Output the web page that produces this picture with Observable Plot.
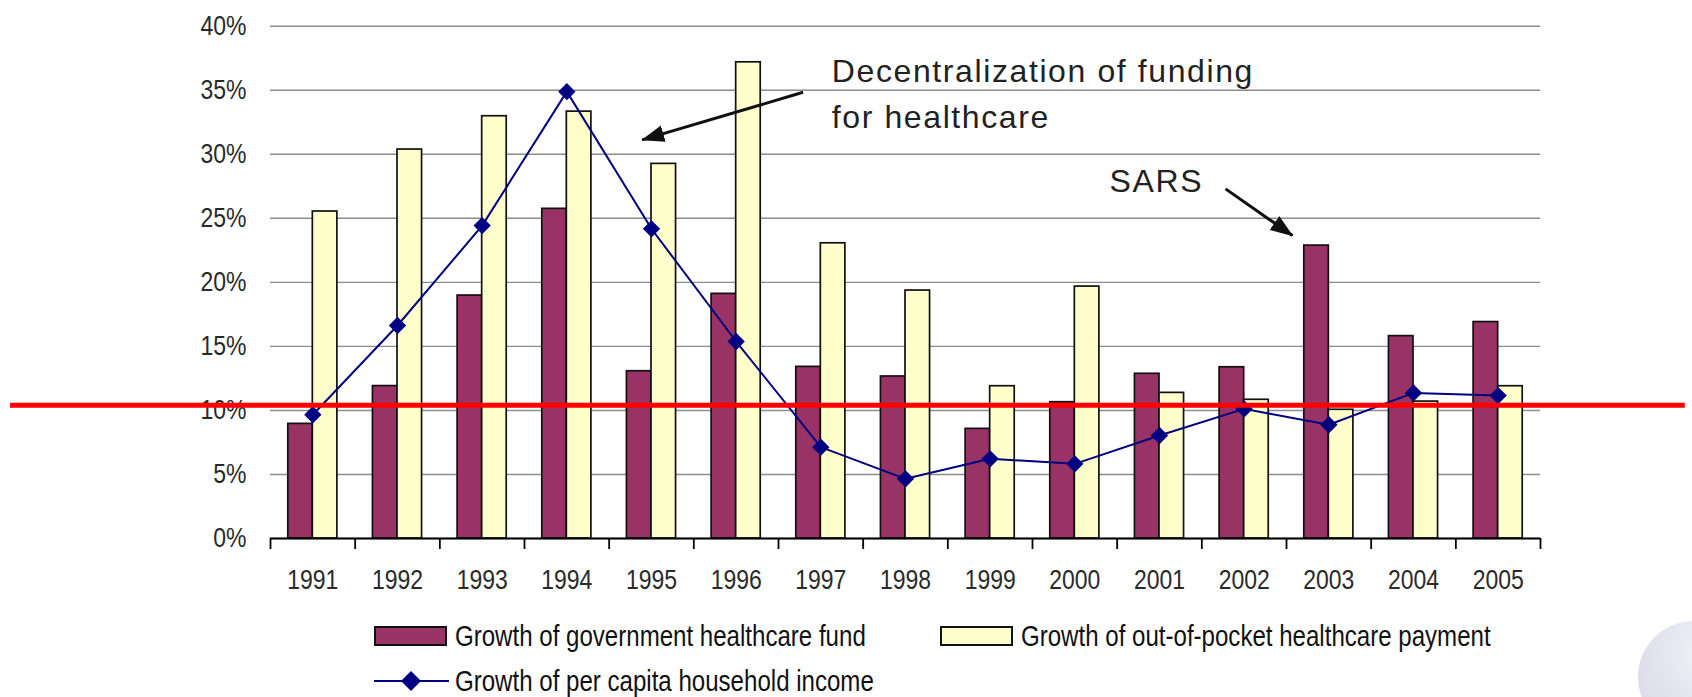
<!DOCTYPE html>
<html>
<head>
<meta charset="utf-8">
<script src="https://cdn.jsdelivr.net/npm/d3@7"></script>
<script src="https://cdn.jsdelivr.net/npm/@observablehq/plot@0.6"></script>
<style>
  html, body { margin: 0; padding: 0; background: #fff; }
  #wrap { position: relative; width: 1692px; height: 697px; overflow: hidden; background: #fff;
          font-family: "Liberation Sans", Arial, sans-serif; }
  #chart svg { display: block; }
  #chart g[aria-label="text"] text { letter-spacing: 1.6px; }
  .leg { position: absolute; display: flex; align-items: center; font-size: 29px; color: #111; white-space: nowrap; height: 30px; }
  .leg span { display: inline-block; transform: scaleX(0.83); transform-origin: 0 50%; }
  .sw { box-sizing: border-box; width: 73px; height: 20px; border: 2px solid #111; margin-right: 8px; }
  .deco { position: absolute; left: 1638px; top: 621px; width: 112px; height: 112px; border-radius: 50%;
          background: radial-gradient(circle at 65% 30%, #f3f3f8 0%, #e2e2ee 55%, #d6d6e6 100%); }
</style>
</head>
<body>
<div id="wrap">
  <div id="chart"></div>
  <div class="deco"></div>
</div>
<script>
// ---- data ----
const years = [1991, 1992, 1993, 1994, 1995, 1996, 1997, 1998, 1999, 2000, 2001, 2002, 2003, 2004, 2005];
const govGrowth = [8.95, 11.9, 18.97, 25.74, 13.06, 19.1, 13.4, 12.65, 8.56, 10.64, 12.86, 13.37, 22.87, 15.8, 16.9];
const oopGrowth = [25.53, 30.37, 32.97, 33.33, 29.25, 37.18, 23.05, 19.36, 11.89, 19.67, 11.37, 10.83, 10.05, 10.69, 11.89];
const incomeGrowth = [9.66, 16.63, 24.43, 34.89, 24.18, 15.38, 7.13, 4.66, 6.22, 5.83, 8.04, 10.12, 8.88, 11.37, 11.16];
const yTicks = [0, 5, 10, 15, 20, 25, 30, 35, 40];
const seriesNames = ["Growth of government healthcare fund", "Growth of out-of-pocket healthcare payment", "Growth of per capita household income"];
const annotationTexts = [
  {text: "Decentralization of funding", x: 1997.13, y: 36.43},
  {text: "for healthcare", x: 1997.13, y: 32.82},
  {text: "SARS", x: 2000.41, y: 27.88}
];
const arrows = [
  {x1: 1996.79, y1: 34.84, x2: 1994.89, y2: 31.12},
  {x1: 2001.78, y1: 27.30, x2: 2002.57, y2: 23.65}
];
const redLine = [{y: 10.4, x1: 1987.43, x2: 2007.21}];

// ---- styles ----
const GOV = "#993366", OOP = "#FFFFCC", INC = "#000080";
const REG = '"Liberation Sans", Arial, sans-serif';
const barW = 0.29;
const NARROW_RATIO = 0.82;

const rows = years.map((year, i) => ({year, gov: govGrowth[i], oop: oopGrowth[i], inc: incomeGrowth[i]}));
const boundaries = [...years.map(y => y - 0.5), years[years.length - 1] + 0.5];

const plot = Plot.plot({
  width: 1692,
  height: 610,
  marginLeft: 270,
  marginRight: 152,
  marginTop: 25.7,
  marginBottom: 72,
  style: {fontFamily: REG, background: "transparent", overflow: "visible"},
  x: {type: "linear", domain: [years[0] - 0.5, years[years.length - 1] + 0.5]},
  y: {domain: [0, 40]},
  marks: [
    Plot.gridY(yTicks, {stroke: "#8c8c8c", strokeOpacity: 1, strokeWidth: 1.4}),
    Plot.rectY(rows, {x1: d => d.year - barW, x2: d => d.year, y: "gov", fill: GOV, stroke: "#111", strokeWidth: 1.7}),
    Plot.rectY(rows, {x1: d => d.year, x2: d => d.year + barW, y: "oop", fill: OOP, stroke: "#111", strokeWidth: 1.7}),
    Plot.ruleY([0], {stroke: "#000", strokeWidth: 2}),
    Plot.axisY(yTicks, {tickSize: 0, tickPadding: 24, tickFormat: d => d + "%", fontSize: 28, fill: "#2a2a2a", label: null}),
    Plot.axisX(years, {tickSize: 0, tickPadding: 31, tickFormat: d => String(d), fontSize: 28, fill: "#2a2a2a", label: null}),
    Plot.axisX(boundaries, {tickSize: 11, tickFormat: () => "", stroke: "#000", strokeWidth: 1.8, label: null}),
    Plot.line(rows, {x: "year", y: "inc", stroke: INC, strokeWidth: 2}),
    Plot.dot(rows, {x: "year", y: "inc", symbol: "diamond2", r: 7.8, fill: INC, stroke: "none"}),
    Plot.link(arrows, {x1: "x1", y1: "y1", x2: "x2", y2: "y2", stroke: "#111", strokeWidth: 3}),
    Plot.text(annotationTexts, {x: "x", y: "y", text: "text", textAnchor: "start", lineAnchor: "middle", fontSize: 32, fontFamily: REG, fill: "#222"}),
    Plot.ruleY(redLine, {y: "y", x1: "x1", x2: "x2", stroke: "#ff0000", strokeWidth: 5})
  ]
});

// filled arrowheads for the annotation links
const svg = d3.select(plot);
const defs = svg.insert("defs", ":first-child");
const mk = defs.append("marker")
  .attr("id", "fillArrow")
  .attr("viewBox", "-22 -9 24 18")
  .attr("markerWidth", 24).attr("markerHeight", 18)
  .attr("markerUnits", "userSpaceOnUse")
  .attr("orient", "auto").attr("refX", 0).attr("refY", 0);
mk.append("path").attr("d", "M1,0L-22,-8.5L-22,8.5Z").attr("fill", "#111");
svg.selectAll('g[aria-label="link"] path').attr("marker-end", "url(#fillArrow)");

document.getElementById("chart").appendChild(plot);

// condensed look for the tick labels (the original uses a narrow face)
svg.selectAll('g[aria-label="y-axis tick label"] text, g[aria-label="x-axis tick label"] text').each(function () {
  const L = this.getComputedTextLength();
  if (L > 0) {
    this.setAttribute("textLength", (L * NARROW_RATIO).toFixed(2));
    this.setAttribute("lengthAdjust", "spacingAndGlyphs");
  }
});

// ---- legend (HTML, below the SVG) ----
const wrap = document.getElementById("wrap");
function addItem(left, top, symbolHtml, label) {
  const d = document.createElement("div");
  d.className = "leg";
  d.style.left = left + "px";
  d.style.top = top + "px";
  d.innerHTML = symbolHtml + `<span>${label}</span>`;
  wrap.appendChild(d);
}
addItem(374, 621, `<div class="sw" style="background:${GOV}"></div>`, seriesNames[0]);
addItem(940, 621, `<div class="sw" style="background:${OOP}"></div>`, seriesNames[1]);
addItem(374, 666, `<svg width="75" height="22" style="margin-right:6px;display:block"><line x1="0" x2="75" y1="11" y2="11" stroke="${INC}" stroke-width="2"/><path d="M37,1L47,11L37,21L27,11Z" fill="${INC}"/></svg>`, seriesNames[2]);
</script>
</body>
</html>
